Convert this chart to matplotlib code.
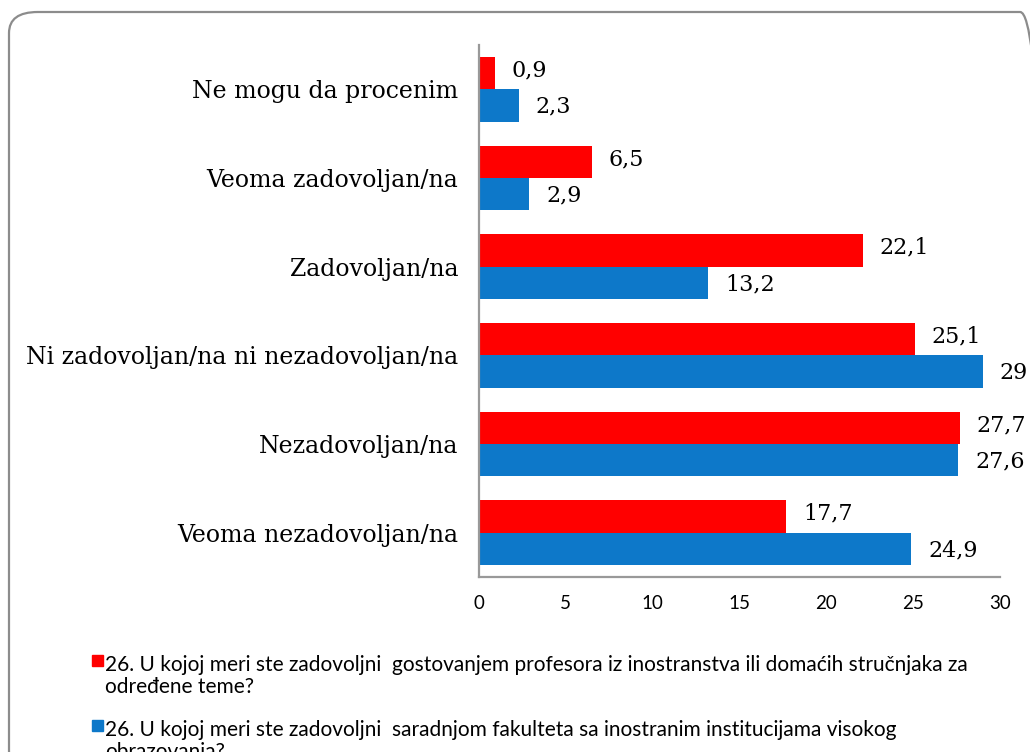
import matplotlib.pyplot as plt
from matplotlib.patches import FancyBboxPatch

categories = ["Veoma nezadovoljan/na", "Nezadovoljan/na", "Ni zadovoljan/na ni nezadovoljan/na",
              "Zadovoljan/na", "Veoma zadovoljan/na", "Ne mogu da procenim"]
red_vals = [17.7, 27.7, 25.1, 22.1, 6.5, 0.9]
blue_vals = [24.9, 27.6, 29, 13.2, 2.9, 2.3]
red_labels = ["17,7", "27,7", "25,1", "22,1", "6,5", "0,9"]
blue_labels = ["24,9", "27,6", "29", "13,2", "2,9", "2,3"]
xticks = [0, 5, 10, 15, 20, 25, 30]
legend_red = "26. U kojoj meri ste zadovoljni  gostovanjem profesora iz inostranstva ili domaćih stručnjaka za\nodređene teme?"
legend_blue = "26. U kojoj meri ste zadovoljni  saradnjom fakulteta sa inostranim institucijama visokog\nobrazovanja?"

RED = "#FF0000"
BLUE = "#0D78C9"
SERIF = "DejaVu Serif"
SANS = "Lato"

fig = plt.figure(figsize=(10.3, 7.52), dpi=100)

# rounded frame around the chart, runs off the bottom/right edge
frame = FancyBboxPatch((9 / 1030, -20 / 752), 1040 / 1030, 760 / 752,
                       boxstyle="round,pad=0,rounding_size=0.028", transform=fig.transFigure,
                       facecolor="none", edgecolor="#8c8c8c", linewidth=1.6, clip_on=False,
                       zorder=-1)
fig.patches.append(frame)

ax = fig.add_axes([479 / 1030, 1 - 577 / 752, 521 / 1030, 532 / 752])
ax.patch.set_alpha(0)
h = 0.365
ys = range(len(categories))
ax.barh([y + h / 2 for y in ys], red_vals, height=h, color=RED)
ax.barh([y - h / 2 for y in ys], blue_vals, height=h, color=BLUE)

for y, v, lab in zip(ys, red_vals, red_labels):
    ax.annotate(lab, (v, y + h / 2), xytext=(12, 2), textcoords="offset points",
                va="center", ha="left", fontsize=16, family=SERIF)
for y, v, lab in zip(ys, blue_vals, blue_labels):
    ax.annotate(lab, (v, y - h / 2), xytext=(12, -1), textcoords="offset points",
                va="center", ha="left", fontsize=16, family=SERIF)

ax.set_xlim(0, 30)
ax.set_ylim(-0.5, len(categories) - 0.5)
ax.set_xticks(xticks)
ax.set_xticklabels([str(t) for t in xticks], family=SANS, fontsize=13.5)
ax.set_yticks(list(ys))
ax.set_yticklabels(categories, family=SERIF, fontsize=17)
ax.tick_params(axis="both", length=0)
ax.tick_params(axis="x", pad=13)
ax.tick_params(axis="y", pad=15)
for s in ["top", "right"]:
    ax.spines[s].set_visible(False)
for s in ["left", "bottom"]:
    ax.spines[s].set_color("#999999")
    ax.spines[s].set_linewidth(1.6)

# legend
fig.patches.append(plt.Rectangle((92 / 1030, 1 - 666 / 752), 11 / 1030, 11 / 752,
                                 transform=fig.transFigure, color=RED))
fig.text(105 / 1030, 1 - 655 / 752, legend_red, family=SANS, fontsize=15, va="top",
         linespacing=1.15)
fig.patches.append(plt.Rectangle((92 / 1030, 1 - 731 / 752), 11 / 1030, 11 / 752,
                                 transform=fig.transFigure, color=BLUE))
fig.text(105 / 1030, 1 - 720 / 752, legend_blue, family=SANS, fontsize=15, va="top",
         linespacing=1.15)

fig.savefig("out.png", dpi=100)
